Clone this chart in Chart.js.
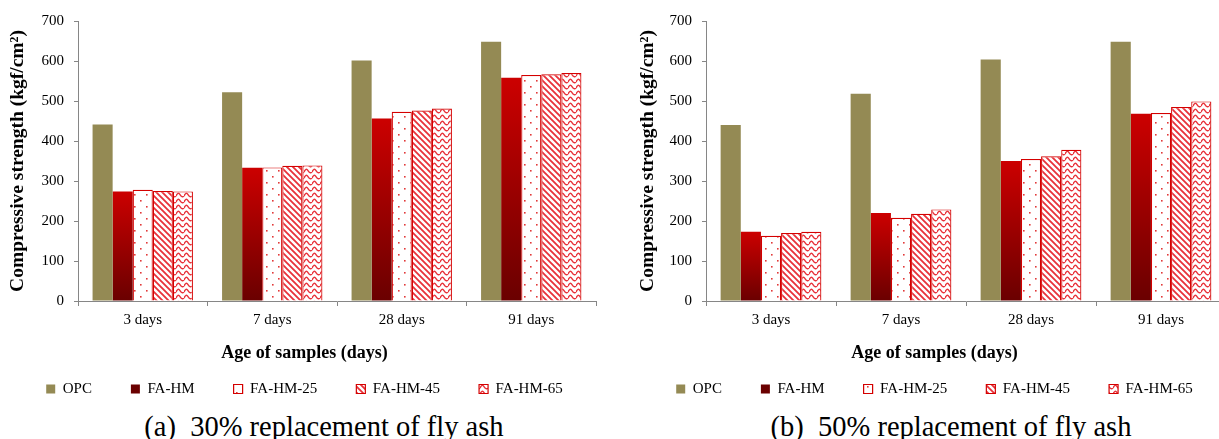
<!DOCTYPE html>
<html>
<head>
<meta charset="utf-8">
<script src="https://cdn.jsdelivr.net/npm/chart.js@4.4.1/dist/chart.umd.min.js"></script>
<style>
  html, body { margin: 0; padding: 0; background: #fff; }
  #page { position: relative; width: 1219px; height: 439px; overflow: hidden; }
  canvas { position: absolute; top: 0; }
  #leftChart { left: 0; }
  #rightChart { left: 625px; }
  .caption { position: absolute; top: 411px; font-family: 'Liberation Serif', 'Times New Roman', serif; font-size: 28.5px; line-height: 32px; text-align: center; white-space: pre; color: #000; }
</style>
</head>
<body>
<div id="page">
  <canvas id="leftChart" width="607" height="408"></canvas>
  <canvas id="rightChart" width="612" height="408"></canvas>
  <div class="caption" style="left:0;width:648px">(a)  30% replacement of fly ash</div>
  <div class="caption" style="left:651px;width:600px">(b)  50% replacement of fly ash</div>
</div>
<script>
// age groups on the x axis
const ages = ["3 days", "7 days", "28 days", "91 days"];
const seriesNames = ["OPC", "FA-HM", "FA-HM-25", "FA-HM-45", "FA-HM-65"];

// (a) 30% fly ash replacement, kgf/cm2
const opc30 = [441, 522, 601, 648];
const faHm30 = [274, 333, 456, 558];
const faHm25_30 = [278, 334, 473, 565];
const faHm45_30 = [275, 338, 476, 567];
const faHm65_30 = [274, 339, 481, 570];

// (b) 50% fly ash replacement, kgf/cm2
const opc50 = [440, 518, 604, 648];
const faHm50 = [173, 220, 350, 468];
const faHm25_50 = [163, 208, 355, 470];
const faHm45_50 = [170, 218, 362, 485];
const faHm65_50 = [173, 229, 378, 499];

const yTicks = { min: 0, max: 700, step: 100 };

Chart.defaults.font.family = "'Liberation Serif', 'Times New Roman', serif";
Chart.defaults.color = "#000";

// small tiles for the hatched fills
function makePattern(w, h, draw) {
    const tile = document.createElement("canvas");
    tile.width = w;
    tile.height = h;
    const g = tile.getContext("2d");
    g.fillStyle = "#fff";
    g.fillRect(0, 0, w, h);
    draw(g);
    return document.createElement("canvas").getContext("2d").createPattern(tile, "repeat");
}

const dotFill = makePattern(12, 12, function (g) {
    g.fillStyle = "#e23a3a";
    g.fillRect(2, 2, 1.6, 1.6);
    g.fillRect(8, 8, 1.6, 1.6);
});

const diagFill = makePattern(6, 6, function (g) {
    g.strokeStyle = "#e8323a";
    g.lineWidth = 1.8;
    g.beginPath();
    g.moveTo(-1, -1); g.lineTo(7, 7);
    g.moveTo(-1, 5); g.lineTo(1, 7);
    g.moveTo(5, -1); g.lineTo(7, 1);
    g.stroke();
});

const waveFill = makePattern(8, 6, function (g) {
    g.strokeStyle = "#e8323a";
    g.lineWidth = 1.4;
    g.beginPath();
    g.moveTo(0, 4.2);
    g.quadraticCurveTo(2, -0.6, 4, 2.6);
    g.quadraticCurveTo(6, 5.8, 8, 4.2);
    g.stroke();
});

// FA-HM bars fade from bright red at the top to dark red at the base
function redGradient(context) {
    const chart = context.chart;
    if (context.type !== "data" || !chart.chartArea || !context.parsed) return "#a80000";
    const yScale = chart.scales.y;
    const top = yScale.getPixelForValue(context.parsed.y);
    const base = yScale.getPixelForValue(0);
    if (!isFinite(top) || !isFinite(base)) return "#a80000";
    const grad = chart.ctx.createLinearGradient(0, top, 0, base);
    grad.addColorStop(0, "#cc0000");
    grad.addColorStop(1, "#6a0000");
    return grad;
}

function buildData(opc, hm, hm25, hm45, hm65) {
    return {
        labels: ages,
        datasets: [
            { label: seriesNames[0], data: opc, backgroundColor: "#948a54", borderWidth: 0 },
            { label: seriesNames[1], data: hm, backgroundColor: redGradient, borderWidth: 0 },
            { label: seriesNames[2], data: hm25, backgroundColor: dotFill, borderColor: "#d40000", borderWidth: 1.2 },
            { label: seriesNames[3], data: hm45, backgroundColor: diagFill, borderColor: "#d40000", borderWidth: 1.2 },
            { label: seriesNames[4], data: hm65, backgroundColor: waveFill, borderColor: "#d40000", borderWidth: 1.2 }
        ]
    };
}

function buildOptions(padLeft, yWidth, gapWidth) {
    return {
        responsive: false,
        animation: false,
        layout: { padding: { left: padLeft, right: 1, top: 21, bottom: 1.5 } },
        datasets: { bar: { categoryPercentage: 0.775, barPercentage: 1 } },
        scales: {
            x: {
                grid: { offset: true, drawOnChartArea: false, tickLength: 5, color: "#868686" },
                border: { color: "#868686" },
                ticks: { padding: 5, font: { size: 15 } }
            },
            y: {
                min: yTicks.min,
                max: yTicks.max,
                ticks: { stepSize: yTicks.step, padding: 10, font: { size: 15 } },
                grid: { drawOnChartArea: false, tickLength: 4, color: "#868686" },
                border: { color: "#868686" },
                title: {
                    display: true,
                    text: "Compressive strength (kgf/cm²)",
                    font: { size: 19.5, weight: "bold" },
                    padding: { top: 3.3, bottom: 0 }
                },
                afterFit: function (scale) { scale.width = yWidth; }
            },
            // empty right-hand strip so the legend gets the full width
            gap: {
                type: "linear",
                position: "right",
                grid: { display: false },
                border: { display: false },
                ticks: { display: false },
                afterFit: function (scale) { scale.width = gapWidth; }
            }
        },
        plugins: {
            title: {
                display: true,
                position: "bottom",
                weight: 500,
                text: "Age of samples (days)",
                font: { size: 18, weight: "bold" },
                padding: { top: 8.2, bottom: -21.3 }
            },
            legend: {
                position: "bottom",
                labels: { boxWidth: 9, boxHeight: 9, padding: 39, font: { size: 15 } }
            },
            tooltip: { enabled: false }
        }
    };
}

new Chart(document.getElementById("leftChart"), {
    type: "bar",
    data: buildData(opc30, faHm30, faHm25_30, faHm45_30, faHm65_30),
    options: buildOptions(3, 75, 10)
});

new Chart(document.getElementById("rightChart"), {
    type: "bar",
    data: buildData(opc50, faHm50, faHm25_50, faHm45_50, faHm65_50),
    options: buildOptions(8, 73, 10)
});
</script>
</body>
</html>
